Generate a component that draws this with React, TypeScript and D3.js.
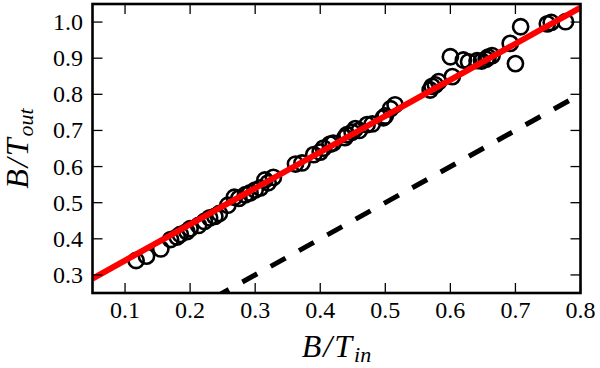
import React, { useEffect, useRef } from "react";
import * as d3 from "d3";

// tick values
const xTicks = [0.1, 0.2, 0.3, 0.4, 0.5, 0.6, 0.7, 0.8];
const yTicks = [0.3, 0.4, 0.5, 0.6, 0.7, 0.8, 0.9, 1.0];

// measured points (B/T_in, B/T_out)
const bIn = [
  0.117, 0.133, 0.155, 0.17, 0.18, 0.185, 0.195, 0.2, 0.213, 0.222, 0.23, 0.238,
  0.245, 0.258, 0.268, 0.275, 0.285, 0.292, 0.3, 0.308, 0.315, 0.328, 0.32,
  0.362, 0.372, 0.39, 0.4, 0.405, 0.415, 0.42, 0.438, 0.441, 0.449, 0.454, 0.46,
  0.472, 0.48, 0.497, 0.5, 0.508, 0.515, 0.569, 0.572, 0.577, 0.582, 0.6, 0.603,
  0.62, 0.628, 0.641, 0.648, 0.655, 0.658, 0.664, 0.692, 0.7, 0.708, 0.749,
  0.755, 0.777,
];
const bOut = [
  0.34, 0.352, 0.372, 0.398, 0.405, 0.412, 0.42, 0.428, 0.437, 0.448, 0.458,
  0.462, 0.47, 0.493, 0.515, 0.512, 0.522, 0.527, 0.535, 0.541, 0.563, 0.57,
  0.555, 0.607, 0.61, 0.633, 0.64, 0.651, 0.662, 0.665, 0.68, 0.688, 0.695,
  0.705, 0.7, 0.716, 0.718, 0.735, 0.74, 0.76, 0.771, 0.812, 0.822, 0.826,
  0.835, 0.904, 0.849, 0.895, 0.89, 0.893, 0.892, 0.897, 0.903, 0.907, 0.941,
  0.885, 0.987, 0.995, 0.999, 1.001,
];

// linear fit (red) and one-to-one line (dashed)
const fitX = [0.05, 0.8];
const fitY = [0.29, 1.04];
const refX = [0, 0.8];
const refY = [0, 0.8];

const App = () => {
  const ref = useRef<SVGSVGElement>(null);

  useEffect(() => {
    const svg = d3.select(ref.current);
    svg.selectAll("*").remove();

    const left = 92.5, right = 580.5, top = 4, bottom = 293;
    const font = "'Liberation Serif', 'Times New Roman', serif";

    const x = d3.scaleLinear().domain([0.05, 0.8]).range([left, right]);
    const y = d3.scaleLinear().domain([0.25, 1.05]).range([bottom, top]);

    svg
      .append("defs")
      .append("clipPath")
      .attr("id", "plot-clip")
      .append("rect")
      .attr("x", left)
      .attr("y", top)
      .attr("width", right - left)
      .attr("height", bottom - top);

    const plot = svg.append("g").attr("clip-path", "url(#plot-clip)");
    const line = d3.line<number>();

    // dashed 1:1 line
    plot
      .append("path")
      .attr("d", line(refX.map((v, i) => [x(v), y(refY[i])]) as any))
      .attr("fill", "none")
      .attr("stroke", "#000")
      .attr("stroke-width", 5)
      .attr("stroke-dasharray", "17,15.4")
      .attr("stroke-dashoffset", 18.2);

    plot
      .append("g")
      .selectAll("circle")
      .data(bIn)
      .join("circle")
      .attr("cx", (d) => x(d))
      .attr("cy", (d, i) => y(bOut[i]))
      .attr("r", 7.6)
      .attr("fill", "none")
      .attr("stroke", "#000")
      .attr("stroke-width", 2.6);

    plot
      .append("path")
      .attr("d", line(fitX.map((v, i) => [x(v), y(fitY[i])]) as any))
      .attr("fill", "none")
      .attr("stroke", "#ff0000")
      .attr("stroke-width", 6);

    // ticks on all four sides, pointing in
    const tickLen = 10;
    const ticks = svg.append("g").attr("stroke", "#000").attr("stroke-width", 1.3);
    xTicks.forEach((t) => {
      ticks.append("line").attr("x1", x(t)).attr("x2", x(t)).attr("y1", bottom).attr("y2", bottom - tickLen);
      ticks.append("line").attr("x1", x(t)).attr("x2", x(t)).attr("y1", top).attr("y2", top + tickLen);
    });
    yTicks.forEach((t) => {
      ticks.append("line").attr("x1", left).attr("x2", left + tickLen).attr("y1", y(t)).attr("y2", y(t));
      ticks.append("line").attr("x1", right).attr("x2", right - tickLen).attr("y1", y(t)).attr("y2", y(t));
    });

    svg
      .append("rect")
      .attr("x", left)
      .attr("y", top)
      .attr("width", right - left)
      .attr("height", bottom - top)
      .attr("fill", "none")
      .attr("stroke", "#000")
      .attr("stroke-width", 2.6);

    // tick labels
    svg
      .append("g")
      .selectAll("text")
      .data(xTicks)
      .join("text")
      .attr("x", (d) => x(d))
      .attr("y", 318)
      .attr("text-anchor", "middle")
      .style("font-family", font)
      .style("font-size", "24px")
      .text((d) => d.toFixed(1));

    svg
      .append("g")
      .selectAll("text")
      .data(yTicks)
      .join("text")
      .attr("x", 83)
      .attr("y", (d) => y(d) + 8)
      .attr("text-anchor", "end")
      .style("font-family", font)
      .style("font-size", "24px")
      .text((d) => d.toFixed(1));

    // axis titles
    const xLabel = svg
      .append("text")
      .attr("x", (left + right) / 2)
      .attr("y", 357)
      .attr("text-anchor", "middle")
      .style("font-family", font)
      .style("font-style", "italic")
      .style("font-size", "32px")
      .style("letter-spacing", "2px");
    xLabel.append("tspan").text("B/T");
    xLabel.append("tspan").attr("dy", 5).style("font-size", "22px").style("letter-spacing", "0px").text("in");

    const yLabel = svg
      .append("text")
      .attr("transform", `translate(28,${(top + bottom) / 2}) rotate(-90)`)
      .attr("text-anchor", "middle")
      .style("font-family", font)
      .style("font-style", "italic")
      .style("font-size", "32px")
      .style("letter-spacing", "2px");
    yLabel.append("tspan").text("B/T");
    yLabel.append("tspan").attr("dy", 5).style("font-size", "22px").style("letter-spacing", "0px").text("out");
  }, []);

  return (
    <svg
      ref={ref}
      width={600}
      height={368}
      style={{ position: "absolute", left: 0, top: 0, background: "#fff" }}
    />
  );
};

export default App;
